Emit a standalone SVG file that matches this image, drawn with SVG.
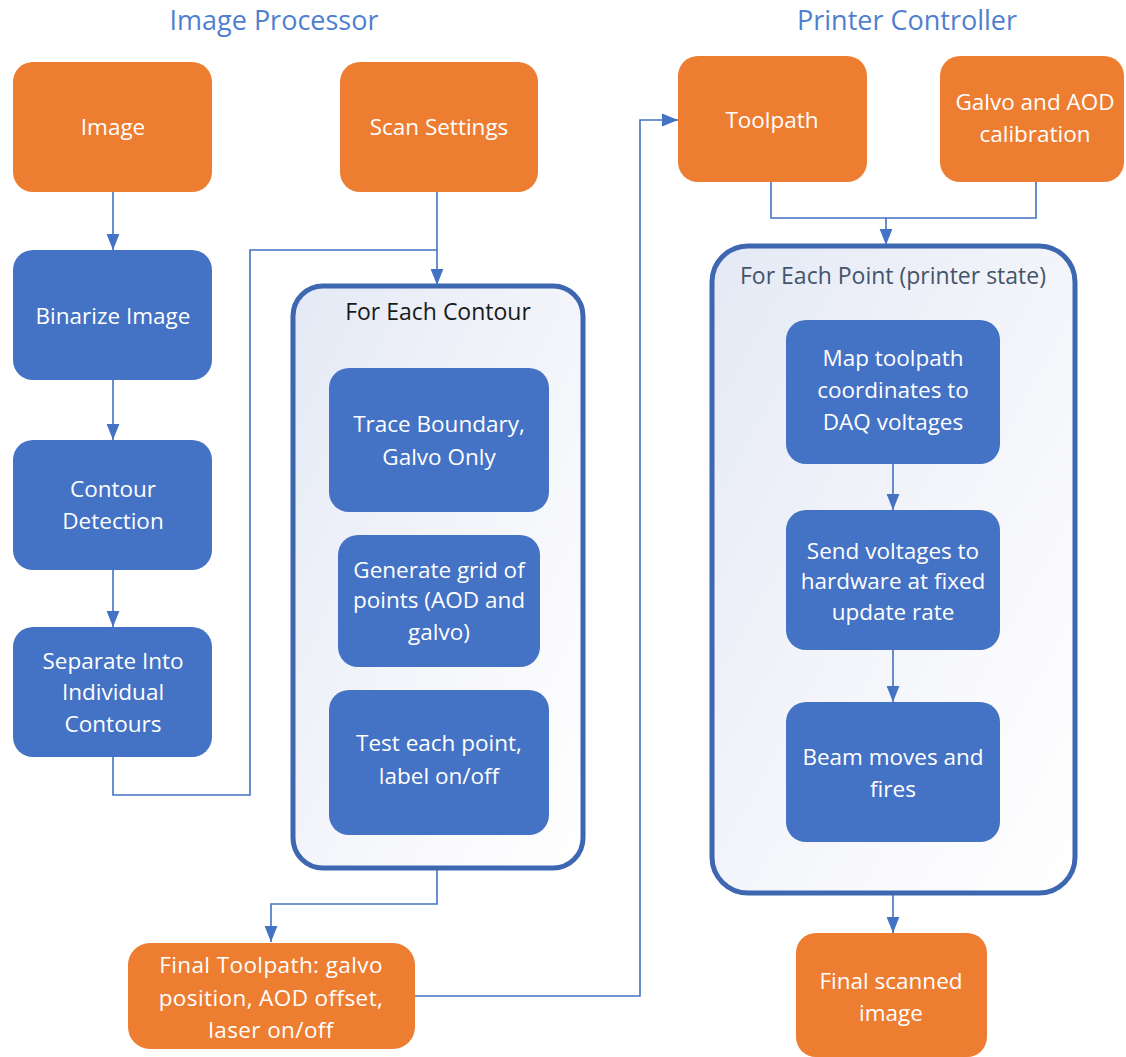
<svg xmlns="http://www.w3.org/2000/svg" width="1126" height="1057" viewBox="0 0 1126 1057">
<style>
.t{font-family:"Open Sans","Noto Sans","Liberation Sans",sans-serif;font-size:22.5px;fill:#ffffff;text-anchor:middle}
.title{font-family:"Open Sans","Noto Sans","Liberation Sans",sans-serif;font-size:27px;fill:#4f7fd0;text-anchor:middle}
.ct{font-family:"Open Sans","Noto Sans","Liberation Sans",sans-serif;font-size:23px;text-anchor:middle}
.o{fill:#ed7d31}
.b{fill:#4472c4}
.cont{fill:url(#g);stroke:#3e67b1;stroke-width:5}
.c{fill:none;stroke:#4472c4;stroke-width:1.6}
</style>
<defs>
<linearGradient id="g" x1="0" y1="0" x2="1" y2="1">
<stop offset="0" stop-color="#e4e9f5"/>
<stop offset="0.6" stop-color="#f6f7fb"/>
<stop offset="1" stop-color="#ffffff"/>
</linearGradient>
<marker id="ah" viewBox="0 0 10 10" refX="10" refY="5" markerWidth="16" markerHeight="16" orient="auto" markerUnits="userSpaceOnUse">
<path d="M0,1 L10,5 L0,9 z" fill="#4472c4"/>
</marker>
</defs>
<rect width="1126" height="1057" fill="#ffffff"/>
<text class="title" x="274" y="30">Image Processor</text>
<text class="title" x="907" y="30">Printer Controller</text>

<g id="for-each-contour">
<rect class="cont" x="293" y="286" width="290" height="582" rx="30"/>
<text class="ct" x="438" y="320" fill="#1a1a1a">For Each Contour</text>
</g>
<g id="for-each-point">
<rect class="cont" x="712" y="246" width="363" height="647" rx="36"/>
<text class="ct" x="893" y="284" fill="#44546a">For Each Point (printer state)</text>
</g>

<g id="connectors">
<path class="c" d="M113,192 V250" marker-end="url(#ah)"/>
<path class="c" d="M113,380 V440" marker-end="url(#ah)"/>
<path class="c" d="M113,570 V627" marker-end="url(#ah)"/>
<path class="c" d="M113,757 V795 H250 V250 H437"/>
<path class="c" d="M437,192 V285" marker-end="url(#ah)"/>
<path class="c" d="M437,870 V904 H271 V942" marker-end="url(#ah)"/>
<path class="c" d="M415,996 H640 V120 H678" marker-end="url(#ah)"/>
<path class="c" d="M771,182 V218 H1036 V182"/>
<path class="c" d="M886,218 V245" marker-end="url(#ah)"/>
<path class="c" d="M893,464 V510" marker-end="url(#ah)"/>
<path class="c" d="M893,650 V702" marker-end="url(#ah)"/>
<path class="c" d="M893,895 V933" marker-end="url(#ah)"/>
</g>

<g id="image"><rect class="o" x="13" y="62" width="199" height="130" rx="20"/><text class="t" x="113" y="135">Image</text></g>
<g id="scan-settings"><rect class="o" x="340" y="62" width="198" height="130" rx="20"/><text class="t" x="439" y="135">Scan Settings</text></g>
<g id="binarize"><rect class="b" x="13" y="250" width="199" height="130" rx="20"/><text class="t" x="113" y="324">Binarize Image</text></g>
<g id="contour-detection"><rect class="b" x="13" y="440" width="199" height="130" rx="20"/><text class="t" x="113" y="497">Contour</text><text class="t" x="113" y="529">Detection</text></g>
<g id="separate"><rect class="b" x="13" y="627" width="199" height="130" rx="20"/><text class="t" x="113" y="669">Separate Into</text><text class="t" x="113" y="700">Individual</text><text class="t" x="113" y="732">Contours</text></g>

<g id="trace"><rect class="b" x="329" y="368" width="220" height="144" rx="20"/><text class="t" x="439" y="432">Trace Boundary,</text><text class="t" x="439" y="465">Galvo Only</text></g>
<g id="generate"><rect class="b" x="338" y="535" width="202" height="132" rx="20"/><text class="t" x="439" y="578">Generate grid of</text><text class="t" x="439" y="608">points (AOD and</text><text class="t" x="439" y="640">galvo)</text></g>
<g id="test"><rect class="b" x="329" y="690" width="220" height="145" rx="20"/><text class="t" x="439" y="751">Test each point,</text><text class="t" x="439" y="784">label on/off</text></g>

<g id="final-toolpath"><rect class="o" x="128" y="943" width="287" height="106" rx="22"/><text class="t" x="271" y="973" style="letter-spacing:0.4px">Final Toolpath: galvo</text><text class="t" x="271" y="1006" style="letter-spacing:0.4px">position, AOD offset,</text><text class="t" x="271" y="1038" style="letter-spacing:0.4px">laser on/off</text></g>

<g id="toolpath"><rect class="o" x="678" y="56" width="189" height="126" rx="20"/><text class="t" x="772" y="128">Toolpath</text></g>
<g id="calibration"><rect class="o" x="940" y="56" width="184" height="126" rx="20"/><text class="t" x="1035" y="110">Galvo and AOD</text><text class="t" x="1035" y="142">calibration</text></g>

<g id="map"><rect class="b" x="786" y="320" width="214" height="144" rx="20"/><text class="t" x="893" y="366">Map toolpath</text><text class="t" x="893" y="398">coordinates to</text><text class="t" x="893" y="430">DAQ voltages</text></g>
<g id="send"><rect class="b" x="786" y="510" width="214" height="140" rx="20"/><text class="t" x="893" y="559">Send voltages to</text><text class="t" x="893" y="589">hardware at fixed</text><text class="t" x="893" y="620">update rate</text></g>
<g id="beam"><rect class="b" x="786" y="702" width="214" height="140" rx="20"/><text class="t" x="893" y="765">Beam moves and</text><text class="t" x="893" y="797">fires</text></g>
<g id="final-scanned"><rect class="o" x="796" y="933" width="191" height="124" rx="20"/><text class="t" x="891" y="989">Final scanned</text><text class="t" x="891" y="1021">image</text></g>
</svg>
